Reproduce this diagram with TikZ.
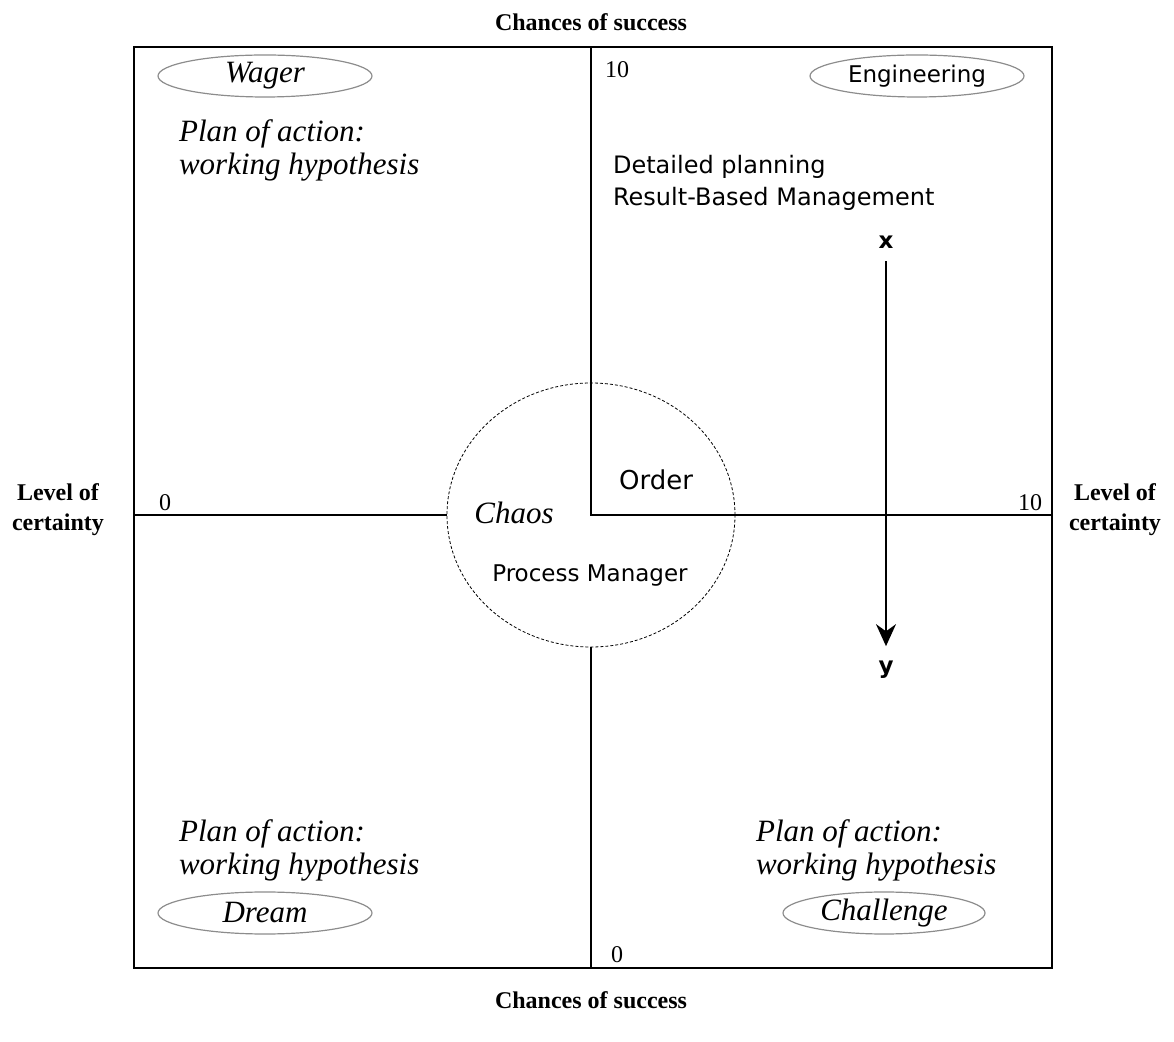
\documentclass[tikz,border=0pt]{standalone}
\usepackage{fontspec}
\setmainfont{Liberation Serif}
\setsansfont{DejaVu Sans}
\usetikzlibrary{shapes.geometric,arrows.meta}

\tikzset{
  quad/.style={ellipse,draw=black!45,line width=0.6pt,minimum width=107pt,minimum height=21pt,inner sep=0pt},
  script/.style={font=\itshape\fontsize{15.5}{16.5}\selectfont,align=left},
  sans/.style={font=\sffamily\fontsize{11}{16}\selectfont,align=left},
  axislabel/.style={font=\bfseries\fontsize{12}{15}\selectfont,align=center},
  tick/.style={font=\fontsize{12}{14}\selectfont},
}

\begin{document}
\begin{tikzpicture}[x=0.5pt,y=-0.5pt]
  \useasboundingbox (0,0) rectangle (1174,1042);
  % frame and axes
  \draw [line width=0.8pt] (134,47) rectangle (1052,968);
  \coordinate (top) at (591,47);
  \coordinate (bot) at (591,968);
  \coordinate (lft) at (134,515);
  \coordinate (rgt) at (1052,515);
  \node [ellipse,draw,dash pattern=on 1.5pt off 1pt,line width=0.4pt,minimum width=144pt,minimum height=132pt] (ring) at (591,515) {};
  \draw [line width=0.7pt] (top) -- (ring.center) -- (rgt);
  \draw [line width=0.7pt] (lft) -- (ring.west);
  \draw [line width=0.7pt] (ring.south) -- (bot);
  % axis labels
  \node [axislabel] (chtop) at (591,22) {Chances of success};
  \node [axislabel] (chbot) at (591,1000) {Chances of success};
  \node [axislabel] (lvleft) at (58,510) {Level of\\certainty};
  \node [axislabel] (lvright) at (1115,510) {Level of\\certainty};
  \node [tick] (ytop) at (617,70) {10};
  \node [tick] (ybot) at (617,955) {0};
  \node [tick] (xlft) at (165,503) {0};
  \node [tick] (xrgt) at (1030,503) {10};
  % quadrants
  \node [quad,script] (wager) at (265,76) {Wager};
  \node [quad,sans,font=\sffamily\fontsize{11.5}{16}\selectfont] (eng) at (917,76) {Engineering};
  \node [quad,script] (dream) at (265,913) {Dream};
  \node [quad,script,minimum width=101pt] (challenge) at (884,913) {Challenge};
  \node [script,anchor=west] (planTL) at (172,150) {Plan of action:\\working hypothesis};
  \node [script,anchor=west] (planBL) at (172,850) {Plan of action:\\working hypothesis};
  \node [script,anchor=west] (planBR) at (749,850) {Plan of action:\\working hypothesis};
  \node [sans,font=\sffamily\fontsize{12}{16}\selectfont,anchor=west] (detail) at (606,183) {Detailed planning\\Result-Based Management};
  % centre
  \node [sans,font=\sffamily\fontsize{13}{16}\selectfont] (order) at (656,480) {Order};
  \node [script] (chaos) at (514,513) {Chaos};
  \node [sans,font=\sffamily\fontsize{11.5}{16}\selectfont] (pm) at (590,576) {Process Manager};
  % x-y arrow
  \node [font=\sffamily\bfseries\fontsize{11.5}{13}\selectfont] (xlab) at (886,242) {x};
  \node [font=\sffamily\bfseries\fontsize{11.5}{13}\selectfont] (ylab) at (886,670) {y};
  \draw [line width=0.8pt,-{Stealth[length=11pt,width=10pt]},shorten <=3pt,shorten >=4pt] (xlab) -- (ylab);
\end{tikzpicture}
\end{document}
